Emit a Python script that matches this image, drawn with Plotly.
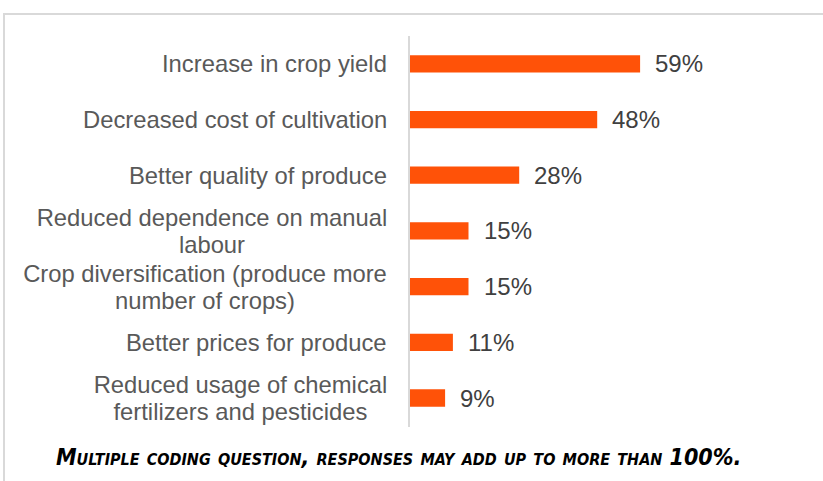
import plotly.graph_objects as go

# Benefits reported by respondents (share of responses, %)
categories = [
    "Increase in crop yield",
    "Decreased cost of cultivation",
    "Better quality of produce",
    "Reduced dependence on manual<br>labour",
    "Crop diversification (produce more<br>number of crops)",
    "Better prices for produce",
    "Reduced usage of chemical<br>fertilizers and pesticides",
]
values = [59, 48, 28, 15, 15, 11, 9]
value_labels = ["59%", "48%", "28%", "15%", "15%", "11%", "9%"]
footnote = "Multiple coding question, responses may add up to more than 100%."

W, H = 823, 481
ML, MR, MT, MB = 410, 23, 36, 54
plot_w = W - ML - MR
plot_h = H - MT - MB

# rendered width (px) of the widest line of each wrapped label, used to
# centre the shorter line under it
BLOCK_WIDTH = {
    "Reduced dependence on manual<br>labour": 350,
    "Crop diversification (produce more<br>number of crops)": 364,
    "Reduced usage of chemical<br>fertilizers and pesticides": 293,
}
LINE_GAP = 27  # px between baselines of wrapped label lines


def px_to_paper_x(px):
    return (px - ML) / plot_w


def px_to_paper_y(py):
    return (H - MB - py) / plot_h


BAR_COLOR = "#FF5208"
LABEL_FONT = "Liberation Sans, Arial, sans-serif"
label_font = dict(family=LABEL_FONT, size=23.8, color="#595959")

fig = go.Figure(
    go.Bar(
        x=values,
        y=categories,
        orientation="h",
        marker=dict(color=BAR_COLOR, line=dict(width=0)),
        width=0.31,
        hoverinfo="skip",
    )
)

annotations = []
# category labels: right-aligned blocks, wrapped lines centred in the block
for cat in categories:
    lines = cat.split("<br>")
    if len(lines) == 1:
        annotations.append(dict(
            x=px_to_paper_x(389), xref="paper", y=cat, yref="y",
            text=cat, showarrow=False, xanchor="right", yanchor="middle",
            font=label_font,
        ))
    else:
        n = len(lines)
        for i, line in enumerate(lines):
            annotations.append(dict(
                x=px_to_paper_x(389), xref="paper", y=cat, yref="y",
                text=line, showarrow=False, xanchor="right", yanchor="middle",
                width=BLOCK_WIDTH[cat], align="center",
                yshift=((n - 1) / 2 - i) * LINE_GAP,
                font=label_font,
            ))
# value labels at the end of each bar
for cat, v, lab in zip(categories, values, value_labels):
    annotations.append(dict(
        x=v, xref="x", y=cat, yref="y", text=lab, showarrow=False,
        xanchor="left", yanchor="middle", xshift=13,
        font=dict(family=LABEL_FONT, size=24, color="#404040"),
    ))

# footnote in bold italic small caps, condensed face
annotations.append(dict(
    x=px_to_paper_x(398), xref="paper", y=px_to_paper_y(457), yref="paper",
    text=f"<b><i>{footnote}</i></b>", showarrow=False,
    xanchor="center", yanchor="middle",
    font=dict(family="Liberation Sans Narrow, DejaVu Sans Condensed, Liberation Sans, sans-serif",
              size=23, color="#000000", variant="small-caps"),
))

fig.update_layout(
    width=W, height=H,
    margin=dict(l=ML, r=MR, t=MT, b=MB),
    paper_bgcolor="white", plot_bgcolor="white",
    showlegend=False,
    annotations=annotations,
    xaxis=dict(range=[0, 100], visible=False, fixedrange=True),
    yaxis=dict(
        autorange="reversed", showticklabels=False, ticks="",
        showgrid=False, zeroline=False,
        showline=True, linecolor="#D9D9D9", linewidth=2,
    ),
    shapes=[dict(
        type="rect", xref="paper", yref="paper",
        x0=px_to_paper_x(4), x1=px_to_paper_x(840),
        y0=px_to_paper_y(500), y1=px_to_paper_y(14),
        line=dict(color="#D9D9D9", width=2), fillcolor="rgba(0,0,0,0)",
        layer="below",
    )],
)

fig.write_html("out.html")
